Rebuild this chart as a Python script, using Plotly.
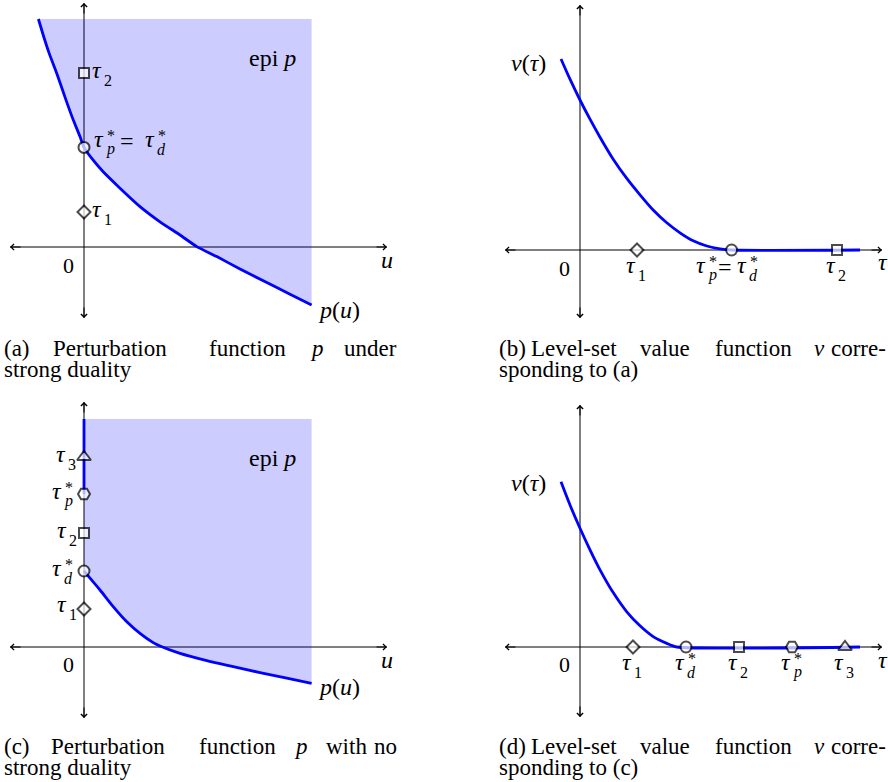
import plotly.graph_objects as go

FONT = "Liberation Serif"
INK = "black"
BLUE = "rgb(0,0,255)"
EPI_FILL = "rgba(0,0,255,0.2)"
W, H = 888, 782

# ---------- (a) perturbation function p under strong duality ----------
a_u = [-1.14, -1.02, -0.87, -0.68, -0.48, -0.27, -0.10, 0.0, 0.19, 0.48, 0.90,
       1.40, 1.90, 2.40, 2.82, 3.32, 3.90, 4.57, 5.15, 5.69]
a_p = [5.70, 5.30, 4.84, 4.34, 3.76, 3.18, 2.76, 2.49, 2.22, 1.88, 1.47,
       1.01, 0.63, 0.30, 0.01, -0.24, -0.55, -0.89, -1.18, -1.45]
a_epi_top = 5.70
a_levels = [0.875, 2.49, 4.35]            # tau_1, tau_p* = tau_d*, tau_2
a_symbols = ["diamond", "circle", "square"]
a_axis_u = [-1.85, 7.575]
a_axis_p = [-1.775, 6.10]

# ---------- (b) level-set value function v for (a) ----------
b_tau = [-0.475, -0.25, 0.0, 0.25, 0.50, 0.83, 1.17, 1.50, 1.83, 2.17,
         2.50, 2.83, 3.17, 3.50, 3.79, 7.0]
b_v = [4.775, 4.27, 3.75, 3.27, 2.82, 2.27, 1.79, 1.38, 1.00, 0.68,
       0.43, 0.23, 0.10, 0.03, 0.0, 0.0]
b_levels = [1.425, 3.79, 6.425]           # tau_1, tau_p* = tau_d*, tau_2
b_symbols = ["diamond", "circle", "square"]
b_axis_tau = [-1.875, 7.55]
b_axis_v = [-1.70, 6.125]

# ---------- (c) perturbation function p with no strong duality ----------
c_u = [0.0, 0.15, 0.40, 0.73, 1.07, 1.40, 1.73, 1.90, 2.40, 3.07, 3.73,
       4.40, 5.07, 5.69]
c_p = [1.90, 1.72, 1.425, 1.01, 0.63, 0.34, 0.11, 0.025, -0.16, -0.34,
       -0.49, -0.64, -0.78, -0.91]
c_epi_top = 5.70
c_ray_start = 3.825                       # p(0) ray begins at tau_p*
c_levels = [0.95, 1.90, 2.85, 3.825, 4.75]  # tau_1, tau_d*, tau_2, tau_p*, tau_3
c_symbols = ["diamond", "circle", "square", "hexagon2", "triangle-up"]
c_axis_u = [-1.85, 7.575]
c_axis_p = [-1.775, 6.125]

# ---------- (d) level-set value function v for (c) ----------
d_tau = [-0.475, -0.25, 0.0, 0.25, 0.50, 0.83, 1.17, 1.50, 1.83, 2.17,
         2.42, 7.0]
d_v = [4.13, 3.55, 2.97, 2.43, 1.93, 1.36, 0.88, 0.53, 0.26, 0.09, 0.0, 0.0]
d_levels = [1.325, 2.65, 3.975, 5.30, 6.625]  # tau_1, tau_d*, tau_2, tau_p*, tau_3
d_symbols = ["diamond", "circle", "square", "hexagon2", "triangle-up"]
d_axis_tau = [-1.875, 7.55]
d_axis_v = [-1.75, 6.05]

MARK_SIZE = {"diamond": 10, "circle": 11, "square": 10, "hexagon2": 12,
             "triangle-up": 12}
LABEL = 24      # math labels
INDEX = 16      # sub/superscripts
CAP = 23        # sub-captions

fig = go.Figure()
ann = []


def font(size=LABEL):
    return dict(family=FONT, size=size, color=INK)


def text(xr, yr, x, y, s, dx=0, dy=0, size=LABEL, xanchor="center"):
    ann.append(dict(xref=xr, yref=yr, x=x, y=y, text=s, showarrow=False,
                    xanchor=xanchor, yanchor="middle", xshift=dx, yshift=dy,
                    borderpad=0, font=font(size)))


def tau_label(xr, yr, x, y, sub, star=False, dx=0, dy=0):
    # the tau glyph ends at the junction point; index and star start there
    text(xr, yr, x, y, "<i>τ</i>", dx=dx, dy=dy + 3, xanchor="right")
    text(xr, yr, x, y, sub, dx=dx, dy=dy - 7, size=INDEX, xanchor="left")
    if star:
        text(xr, yr, x, y, "*", dx=dx + 6, dy=dy + 7, size=INDEX)


def axes(xs, ys, xr, yr, hx, vy):
    # coordinate cross with arrow heads on all four ends
    fig.add_trace(go.Scatter(x=hx, y=[0, 0], xaxis=xs, yaxis=ys, mode="lines",
                             line=dict(color=INK, width=1), hoverinfo="skip"))
    fig.add_trace(go.Scatter(x=[0, 0], y=vy, xaxis=xs, yaxis=ys, mode="lines",
                             line=dict(color=INK, width=1), hoverinfo="skip"))
    heads = [(hx[1], 0, hx[1] - 0.3, 0), (hx[0], 0, hx[0] + 0.3, 0),
             (0, vy[1], 0, vy[1] - 0.3), (0, vy[0], 0, vy[0] + 0.3)]
    for x, y, tx, ty in heads:
        ann.append(dict(xref=xr, yref=yr, axref=xr, ayref=yr, x=x, y=y,
                        ax=tx, ay=ty, text="", showarrow=True, arrowhead=4,
                        arrowsize=1.2, arrowwidth=1, arrowcolor=INK))


def markers(xs, ys, x, y, symbols):
    fig.add_trace(go.Scatter(
        x=x, y=y, xaxis=xs, yaxis=ys, mode="markers", hoverinfo="skip",
        marker=dict(symbol=symbols, size=[MARK_SIZE[s] for s in symbols],
                    color="white", line=dict(color=INK, width=2))))


def curve(xs, ys, x, y):
    fig.add_trace(go.Scatter(x=x, y=y, xaxis=xs, yaxis=ys, mode="lines",
                             line=dict(color=BLUE, width=2.8, shape="spline",
                                       smoothing=0.6),
                             hoverinfo="skip"))


# ---- panel (a)
axes("x", "y", "x", "y", a_axis_u, a_axis_p)
fig.add_trace(go.Scatter(x=a_u + [a_u[-1], a_u[0]], y=a_p + [a_epi_top, a_epi_top],
                         xaxis="x", yaxis="y", mode="none", fill="toself",
                         fillcolor=EPI_FILL, hoverinfo="skip"))
curve("x", "y", a_u, a_p)
markers("x", "y", [0] * len(a_levels), a_levels, a_symbols)
tau_label("x", "y", 0, a_levels[0], "1", dx=19)
tau_label("x", "y", 0, a_levels[2], "2", dx=19)
tau_label("x", "y", 0, a_levels[1], "<i>p</i>", star=True, dx=21, dy=5)
text("x", "y", 0, a_levels[1], "=", dx=43, dy=6)
tau_label("x", "y", 0, a_levels[1], "<i>d</i>", star=True, dx=72, dy=5)
text("x", "y", a_u[-1], a_epi_top, "epi <i>p</i>", dx=-39, dy=-39)
text("x", "y", a_u[-1], a_p[-1], "<i>p</i>(<i>u</i>)", dx=5, dy=-5, xanchor="left")
text("x", "y", a_axis_u[1], 0, "<i>u</i>", dy=-13)
text("x", "y", 0, 0, "0", dx=-16, dy=-18, size=22)

# ---- panel (b)
axes("x2", "y2", "x2", "y2", b_axis_tau, b_axis_v)
curve("x2", "y2", b_tau, b_v)
markers("x2", "y2", b_levels, [0] * len(b_levels), b_symbols)
tau_label("x2", "y2", b_levels[0], 0, "1", dy=-18)
tau_label("x2", "y2", b_levels[2], 0, "2", dy=-18)
tau_label("x2", "y2", b_levels[1], 0, "<i>p</i>", star=True, dx=-25, dy=-18)
text("x2", "y2", b_levels[1], 0, "=", dx=-7, dy=-17)
tau_label("x2", "y2", b_levels[1], 0, "<i>d</i>", star=True, dx=16, dy=-18)
text("x2", "y2", b_tau[0], b_v[0], "<i>v</i>(<i>τ</i>)", dx=-33, dy=-4)
text("x2", "y2", b_axis_tau[1], 0, "<i>τ</i>", dx=-5, dy=-12, xanchor="left")
text("x2", "y2", 0, 0, "0", dx=-16, dy=-18, size=22)

# ---- panel (c)
axes("x3", "y3", "x3", "y3", c_axis_u, c_axis_p)
fig.add_trace(go.Scatter(x=[0] + c_u + [c_u[-1]], y=[c_epi_top] + c_p + [c_epi_top],
                         xaxis="x3", yaxis="y3", mode="none", fill="toself",
                         fillcolor=EPI_FILL, hoverinfo="skip"))
curve("x3", "y3", [0, 0], [c_epi_top, c_ray_start])
curve("x3", "y3", c_u, c_p)
markers("x3", "y3", [0] * len(c_levels), c_levels, c_symbols)
tau_label("x3", "y3", 0, c_levels[0], "1", dx=-16, dy=2)
tau_label("x3", "y3", 0, c_levels[1], "<i>d</i>", star=True, dx=-21)
tau_label("x3", "y3", 0, c_levels[2], "2", dx=-16)
tau_label("x3", "y3", 0, c_levels[3], "<i>p</i>", star=True, dx=-21)
tau_label("x3", "y3", 0, c_levels[4], "3", dx=-17)
text("x3", "y3", c_u[-1], c_epi_top, "epi <i>p</i>", dx=-39, dy=-39)
text("x3", "y3", c_u[-1], c_p[-1], "<i>p</i>(<i>u</i>)", dx=5, dy=-4, xanchor="left")
text("x3", "y3", c_axis_u[1], 0, "<i>u</i>", dy=-13)
text("x3", "y3", 0, 0, "0", dx=-16, dy=-17, size=22)

# ---- panel (d)
axes("x4", "y4", "x4", "y4", d_axis_tau, d_axis_v)
curve("x4", "y4", d_tau, d_v)
markers("x4", "y4", d_levels, [0] * len(d_levels), d_symbols)
for lvl, sub, st in zip(d_levels, ["1", "<i>d</i>", "2", "<i>p</i>", "3"],
                        [False, True, False, True, False]):
    tau_label("x4", "y4", lvl, 0, sub, star=st, dy=-18)
text("x4", "y4", d_tau[0], d_v[0], "<i>v</i>(<i>τ</i>)", dx=-33, dy=-1)
text("x4", "y4", d_axis_tau[1], 0, "<i>τ</i>", dx=-5, dy=-13, xanchor="left")
text("x4", "y4", 0, 0, "0", dx=-16, dy=-17, size=22)


# ---- sub-captions (justified first lines)
def caption(words, y_px):
    for s, x_px, anchor in words:
        ann.append(dict(xref="paper", yref="paper", x=x_px / W, y=1 - y_px / H,
                        text=s, showarrow=False, xanchor=anchor, yanchor="middle",
                        borderpad=0, font=font(CAP)))


caption([("(a)", 3, "left"), ("Perturbation", 110, "center"),
         ("function", 247, "center"), ("<i>p</i>", 317, "center"),
         ("under", 398, "right")], 348)
caption([("strong duality", 3, "left")], 369)
caption([("(b)", 498, "left"), ("Level-set", 574, "center"),
         ("value", 665, "center"), ("function", 753, "center"),
         ("<i>v</i>", 819, "center"), ("corre-", 887, "right")], 348)
caption([("sponding to (a)", 498, "left")], 369)
caption([("(c)", 3, "left"), ("Perturbation", 108, "center"),
         ("function", 238, "center"), ("<i>p</i>", 301, "center"),
         ("with", 346, "center"), ("no", 398, "right")], 746)
caption([("strong duality", 3, "left")], 767)
caption([("(d)", 498, "left"), ("Level-set", 574, "center"),
         ("value", 665, "center"), ("function", 753, "center"),
         ("<i>v</i>", 819, "center"), ("corre-", 887, "right")], 746)
caption([("sponding to (c)", 498, "left")], 767)


def axis_box(domain, rng):
    return dict(domain=domain, range=rng, visible=False, fixedrange=True)


fig.update_layout(
    width=W, height=H, autosize=False, showlegend=False,
    margin=dict(l=0, r=0, t=0, b=0),
    paper_bgcolor="white", plot_bgcolor="white",
    font=dict(family=FONT),
    xaxis=axis_box([0, 0.5], [-2.1, 9.0]), yaxis=axis_box([0.5, 1], [-3.6, 6.175]),
    xaxis2=dict(axis_box([0.5, 1], [-3.4, 7.7]), anchor="y2"),
    yaxis2=dict(axis_box([0.5, 1], [-3.525, 6.25]), anchor="x2"),
    xaxis3=dict(axis_box([0, 0.5], [-2.1, 9.0]), anchor="y3"),
    yaxis3=dict(axis_box([0, 0.5], [-3.375, 6.4]), anchor="x3"),
    xaxis4=dict(axis_box([0.5, 1], [-3.4, 7.7]), anchor="y4"),
    yaxis4=dict(axis_box([0, 0.5], [-3.375, 6.4]), anchor="x4"),
    annotations=ann,
)

fig.write_html("out.html")
